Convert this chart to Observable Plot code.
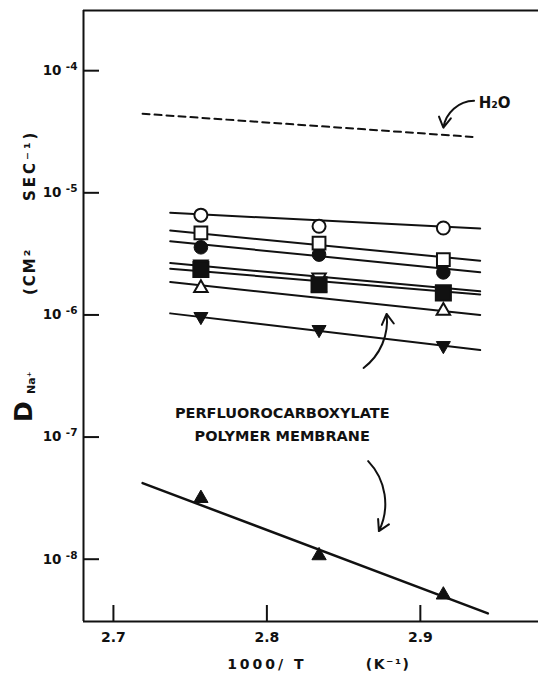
<!DOCTYPE html>
<html><head><meta charset="utf-8">
<script src="https://cdn.jsdelivr.net/npm/d3@7"></script>
<script src="https://cdn.jsdelivr.net/npm/@observablehq/plot@0.6"></script>
<style>
body{margin:0;background:#fff;}
#chart svg{display:block}
</style></head><body><div id="chart"></div>
<script>
// 1000/T (K^-1) of the measured points
const invT = [2.757, 2.834, 2.915];
// D(Na+) in cm^2/s for each membrane series
const dOpenCircle    = [6.56e-6, 5.32e-6, 5.15e-6];
const dOpenSquare    = [4.69e-6, 3.88e-6, 2.84e-6];
const dFilledCircle  = [3.58e-6, 3.12e-6, 2.23e-6];
const dOpenTriDown   = [2.59e-6, 2.03e-6, 1.62e-6];
const dFilledSquare  = [2.36e-6, 1.77e-6, 1.51e-6];
const dOpenTriUp     = [1.66e-6, 1.70e-6, 1.08e-6];
const dFilledTriDown = [9.7e-7, 7.59e-7, 5.61e-7];
const dFilledTriUp   = [3.15e-8, 1.07e-8, 5.1e-9];
// fitted lines (end points)
const fitX = [2.737, 2.939];
const fitOpenCircle    = [6.86e-6, 5.10e-6];
const fitOpenSquare    = [4.91e-6, 2.78e-6];
const fitFilledCircle  = [4.01e-6, 2.24e-6];
const fitOpenTriDown   = [2.66e-6, 1.56e-6];
const fitFilledSquare  = [2.39e-6, 1.47e-6];
const fitOpenTriUp     = [1.86e-6, 1.00e-6];
const fitFilledTriDown = [1.03e-6, 5.16e-7];
const fitXMembrane = [2.719, 2.944];
const fitFilledTriUp = [4.2e-8, 3.6e-9];
// water
const h2oX = [2.719, 2.934];
const h2oD = [4.44e-5, 2.87e-5];
// axes
const xDomain = [2.6805, 2.977];
const yDomain = [3.09e-9, 3.11e-4];
const xTicks = [2.7, 2.8, 2.9];
const xTickLabels = ["2.7", "2.8", "2.9"];
const yTicks = [1e-4, 1e-5, 1e-6, 1e-7, 1e-8];
const yTickBase = ["10", "10", "10", "10", "10"];
const yTickExp = ["-4", "-5", "-6", "-7", "-8"];
// annotations
const arrowX1 = [2.935, 2.863, 2.866];
const arrowY1 = [5.67e-5, 3.68e-7, 6.35e-8];
const arrowX2 = [2.915, 2.878, 2.873];
const arrowY2 = [3.41e-5, 1.02e-6, 1.70e-8];
const membraneLabel = "PERFLUOROCARBOXYLATE\nPOLYMER MEMBRANE";
const membraneLabelPos = [2.810, 1.33e-7];
const h2oLabel = "H\u2082O";
const h2oLabelPos = [2.938, 5.42e-5];
const xLabelParts = ["1000/ T", "(K\u207B\u00B9)"];
const xLabelPos = [2.80, 2.879];
const yLabelParts = ["SEC\u207B\u00B9)", "(CM\u00B2", "D", "Na\u207A"];

const pts = (xs, ys) => xs.map((t, i) => ({t, d: ys[i]}));
const arrowData = (i) => [{x1: arrowX1[i], y1: arrowY1[i], x2: arrowX2[i], y2: arrowY2[i]}];

const ink = "#111";
const lineOpts = {x: "t", y: "d", stroke: ink, strokeWidth: 2};
const dot = (vals, o) => Plot.dot(pts(invT, vals), {x: "t", y: "d", stroke: ink, strokeWidth: 2, ...o});
const arrowOpts = {x1: "x1", y1: "y1", x2: "x2", y2: "y2", headLength: 9, strokeWidth: 2, stroke: ink};

const chart = Plot.plot({
  width: 538, height: 676,
  marginLeft: 83, marginRight: 0, marginTop: 10, marginBottom: 55,
  x: {domain: xDomain},
  y: {type: "log", domain: yDomain},
  style: {fontFamily: "'DejaVu Sans', sans-serif", fontWeight: "bold", background: "#fff", color: ink, overflow: "visible"},
  marks: [
    Plot.ruleY([yDomain[1]], {stroke: ink, strokeWidth: 2}),
    Plot.ruleY([yDomain[0]], {stroke: ink, strokeWidth: 2}),
    Plot.ruleX([xDomain[0]], {stroke: ink, strokeWidth: 2}),
    Plot.axisY(yTicks, {anchor: "left", tickSize: -16, tickPadding: 38, strokeWidth: 2, tickFormat: d => yTickBase[yTicks.indexOf(d)], fontSize: 13.5, label: null, fill: ink}),
    Plot.text(yTicks, {frameAnchor: "left", y: d => d, text: d => yTickExp[yTicks.indexOf(d)], textAnchor: "end", dx: -6, dy: -4, fontSize: 10.5, fill: ink}),
    Plot.axisX(xTicks, {anchor: "bottom", tickSize: -16, tickPadding: 27, strokeWidth: 2, tickFormat: d => xTickLabels[xTicks.indexOf(d)], fontSize: 14, label: null, fill: ink}),
    Plot.line(pts(h2oX, h2oD), {...lineOpts, strokeDasharray: "7,5"}),
    Plot.line(pts(fitX, fitOpenCircle), lineOpts),
    Plot.line(pts(fitX, fitOpenSquare), lineOpts),
    Plot.line(pts(fitX, fitFilledCircle), lineOpts),
    Plot.line(pts(fitX, fitOpenTriDown), lineOpts),
    Plot.line(pts(fitX, fitFilledSquare), lineOpts),
    Plot.line(pts(fitX, fitOpenTriUp), lineOpts),
    Plot.line(pts(fitX, fitFilledTriDown), lineOpts),
    Plot.line(pts(fitXMembrane, fitFilledTriUp), {...lineOpts, strokeWidth: 2.5}),
    dot(dOpenTriDown, {symbol: "triangle", rotate: 180, r: 5, fill: "#fff"}),
    dot(dOpenTriUp, {symbol: "triangle", r: 5, fill: "#fff"}),
    dot(dFilledSquare, {symbol: "square", r: 8.5, fill: ink}),
    dot(dFilledTriDown, {symbol: "triangle", rotate: 180, r: 5.2, fill: ink, strokeWidth: 1}),
    dot(dFilledCircle, {symbol: "circle", r: 6.8, fill: ink, strokeWidth: 1}),
    dot(dOpenSquare, {symbol: "square", r: 7.2, fill: "#fff"}),
    dot(dOpenCircle, {symbol: "circle", r: 6.5, fill: "#fff"}),
    dot(dFilledTriUp, {symbol: "triangle", r: 5.3, fill: ink, strokeWidth: 1}),
    Plot.arrow(arrowData(0), {...arrowOpts, bend: -40}),
    Plot.arrow(arrowData(1), {...arrowOpts, bend: -30}),
    Plot.arrow(arrowData(2), {...arrowOpts, bend: 35}),
    Plot.text([h2oLabel], {x: h2oLabelPos[0], y: h2oLabelPos[1], text: d => d, textAnchor: "start", fontSize: 15, fill: ink}),
    Plot.text([membraneLabel], {x: membraneLabelPos[0], y: membraneLabelPos[1], text: d => d, fontSize: 14.5, lineHeight: 1.6, fill: ink}),
    Plot.text([xLabelParts[0]], {x: xLabelPos[0], frameAnchor: "bottom", dy: 47, fontSize: 14, fill: ink}),
    Plot.text([xLabelParts[1]], {x: xLabelPos[1], frameAnchor: "bottom", dy: 47, fontSize: 14, fill: ink}),
    Plot.text([yLabelParts[0]], {frameAnchor: "left", dx: -53, dy: -115, rotate: -90, fontSize: 15, fill: ink}),
    Plot.text([yLabelParts[1]], {frameAnchor: "left", dx: -53, dy: -21, rotate: -90, fontSize: 15, fill: ink}),
    Plot.text([yLabelParts[2]], {frameAnchor: "left", dx: -60, dy: 106, rotate: -90, fontSize: 25, fill: ink}),
    Plot.text([yLabelParts[3]], {frameAnchor: "left", dx: -52, dy: 78, rotate: -90, fontSize: 11, fill: ink})
  ]
});
// typographic letter spacing of the axis titles, as in the original lettering
const spaced = new Map([[xLabelParts[0], "3px"], [xLabelParts[1], "1.5px"], [yLabelParts[0], "3px"], [yLabelParts[1], "2px"]]);
chart.querySelectorAll("text").forEach(t => {
  if (spaced.has(t.textContent)) t.style.letterSpacing = spaced.get(t.textContent);
});
document.getElementById("chart").appendChild(chart);
</script></body></html>
